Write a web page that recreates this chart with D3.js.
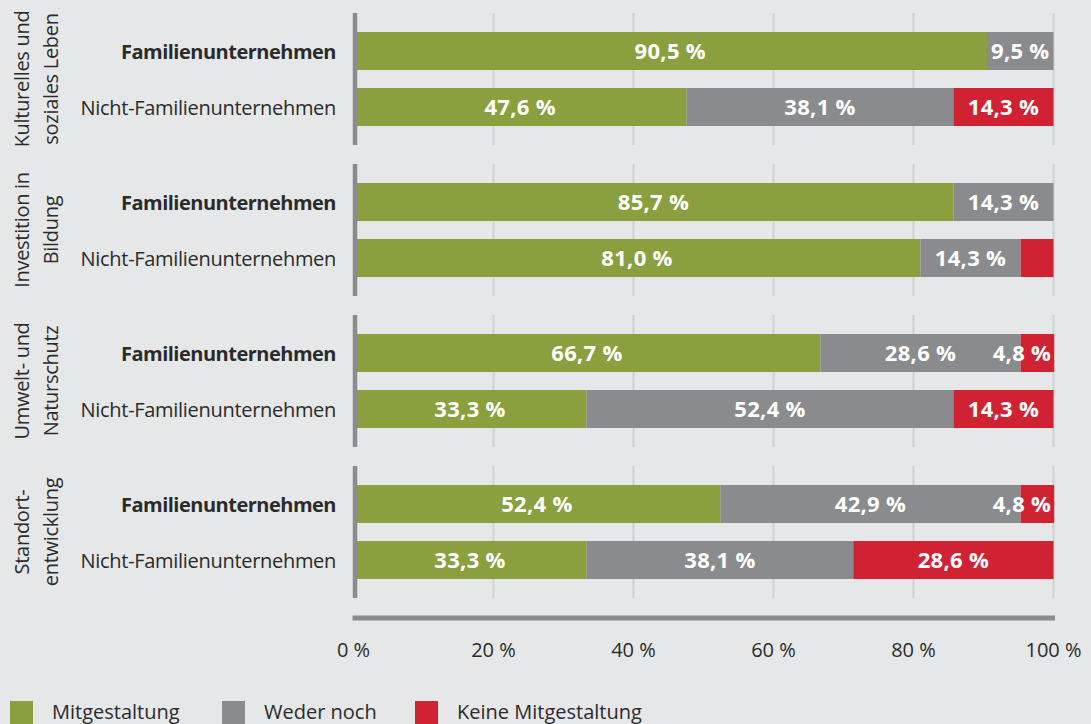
<!DOCTYPE html>
<html lang="de">
<head>
<meta charset="utf-8">
<script src="https://cdn.jsdelivr.net/npm/d3@7/dist/d3.min.js"></script>
<style>
  html, body { margin: 0; padding: 0; background: #e6e7e9; }
  svg { display: block; }
  text { font-family: "Open Sans", "Noto Sans", sans-serif; }
</style>
</head>
<body>
<svg id="chart" width="1091" height="724"></svg>
<script>
// Themenbereiche (zweizeilige, gedrehte Beschriftung)
const categories = [
  ["Kulturelles und", "soziales Leben"],
  ["Investition in", "Bildung"],
  ["Umwelt- und", "Naturschutz"],
  ["Standort-", "entwicklung"]
];
const rows = ["Familienunternehmen", "Nicht-Familienunternehmen"];
const seriesNames = ["Mitgestaltung", "Weder noch", "Keine Mitgestaltung"];
const seriesColors = ["#8a9f3d", "#8a8b8e", "#d12233"];

// Anteile in Prozent, Reihenfolge: je Thema Familien-, dann Nicht-Familienunternehmen
const mitgestaltung = [90.5, 47.6, 85.7, 81.0, 66.7, 33.3, 52.4, 33.3];
const wederNoch     = [ 9.5, 38.1, 14.3, 14.3, 28.6, 52.4, 42.9, 38.1];
const keine         = [ 0.0, 14.3,  0.0,  4.7,  4.8, 14.3,  4.8, 28.6];

// Segmente ohne Wertbeschriftung (Thema-Index, Zeilen-Index, Reihen-Index)
const unlabeled = [[1, 1, 2]];

const tickValues = [0, 20, 40, 60, 80, 100];

const fmt = v => d3.format(".1f")(v).replace(".", ",") + " %";

const svg = d3.select("#chart");
const catKeys = categories.map(c => c.join(" "));

const x = d3.scaleLinear().domain([0, 100]).range([353.5, 1053.5]);
const yGroup = d3.scaleBand().domain(catKeys).range([13, 598])
  .paddingInner(19 / 151).paddingOuter(0);
const yRow = d3.scaleBand().domain(rows).range([0, yGroup.bandwidth()])
  .paddingInner(18 / 56).paddingOuter(19 / 56);

const seriesArrays = [mitgestaltung, wederNoch, keine];

// Zeilen mit gestapelten Segmenten
const records = [];
catKeys.forEach((cat, ci) => {
  rows.forEach((row, ri) => {
    const idx = ci * rows.length + ri;
    let acc = 0;
    seriesArrays.forEach((arr, si) => {
      const v = arr[idx];
      records.push({ cat, ci, row, ri, si, v, x0: acc, x1: acc + v });
      acc += v;
    });
  });
});

const groups = svg.selectAll("g.group").data(catKeys).join("g")
  .attr("class", "group")
  .attr("transform", d => `translate(0,${yGroup(d)})`);

// Hilfslinien je Gruppe
groups.each(function () {
  const g = d3.select(this);
  g.selectAll("line.grid").data(tickValues.slice(1)).join("line")
    .attr("class", "grid")
    .attr("x1", d => x(d)).attr("x2", d => x(d))
    .attr("y1", 0).attr("y2", yGroup.bandwidth())
    .attr("stroke", "#cfd0d3").attr("stroke-width", 2);
});

// Balkensegmente
groups.each(function (cat) {
  const g = d3.select(this);
  const recs = records.filter(r => r.cat === cat && r.v > 0);
  g.selectAll("rect.seg").data(recs).join("rect")
    .attr("class", "seg")
    .attr("x", d => x(d.x0))
    .attr("width", d => x(d.x1) - x(d.x0))
    .attr("y", d => yRow(d.row))
    .attr("height", yRow.bandwidth())
    .attr("fill", d => seriesColors[d.si]);

  const lab = recs.filter(d => !unlabeled.some(u => u[0] === d.ci && u[1] === d.ri && u[2] === d.si));
  g.selectAll("text.val").data(lab).join("text")
    .attr("class", "val")
    .attr("x", d => {
      const w = x(d.x1) - x(d.x0);
      return w < 50 ? x(d.x1) - 3 : (x(d.x0) + x(d.x1)) / 2;
    })
    .attr("text-anchor", d => (x(d.x1) - x(d.x0)) < 50 ? "end" : "middle")
    .attr("y", d => yRow(d.row) + yRow.bandwidth() / 2 + 8)
    .attr("fill", "#ffffff")
    .attr("font-weight", 700)
    .attr("font-size", 22)
    .attr("letter-spacing", 0.3)
    .text(d => fmt(d.v));

  // Zeilenbeschriftung
  g.selectAll("text.row").data(rows).join("text")
    .attr("class", "row")
    .attr("x", 336)
    .attr("y", d => yRow(d) + yRow.bandwidth() / 2 + 7.5)
    .attr("text-anchor", "end")
    .attr("fill", "#2b2b2b")
    .attr("font-size", 20)
    .attr("font-weight", (d, i) => i === 0 ? 700 : 400)
    .attr("letter-spacing", (d, i) => i === 0 ? -0.5 : -0.3)
    .text(d => d);

  // linke Achsenlinie
  g.append("line")
    .attr("x1", 355).attr("x2", 355)
    .attr("y1", 0).attr("y2", yGroup.bandwidth())
    .attr("stroke", "#8a8b8d").attr("stroke-width", 4.5);
});

// gedrehte Themenbeschriftung
catKeys.forEach((cat, ci) => {
  const cy = yGroup(cat) + yGroup.bandwidth() / 2;
  const t = svg.append("text")
    .attr("transform", `translate(0,${cy}) rotate(-90)`)
    .attr("text-anchor", "middle")
    .attr("fill", "#2b2b2b")
    .attr("font-size", 20)
    .attr("letter-spacing", -0.3);
  categories[ci].forEach((line, li) => {
    t.append("tspan").attr("x", 0).attr("y", 29 + li * 29).text(line);
  });
});

// x-Achse
const xAxis = svg.append("g").attr("transform", "translate(0,618)");
xAxis.append("line")
  .attr("x1", x(0) - 1).attr("x2", x(100) + 1.5)
  .attr("stroke", "#8a8b8d").attr("stroke-width", 5);
xAxis.selectAll("text").data(tickValues).join("text")
  .attr("x", d => x(d))
  .attr("y", 39)
  .attr("text-anchor", "middle")
  .attr("fill", "#2b2b2b")
  .attr("font-size", 20)
  .text(d => d + " %");

// Legende
const legendX = [10, 222, 415];
const legend = svg.append("g").attr("transform", "translate(0,701)");
seriesNames.forEach((name, i) => {
  legend.append("rect").attr("x", legendX[i]).attr("y", 0)
    .attr("width", 23).attr("height", 23).attr("fill", seriesColors[i]);
  legend.append("text").attr("x", legendX[i] + 42).attr("y", 18)
    .attr("fill", "#2b2b2b").attr("font-size", 20).text(name);
});
</script>
</body>
</html>
